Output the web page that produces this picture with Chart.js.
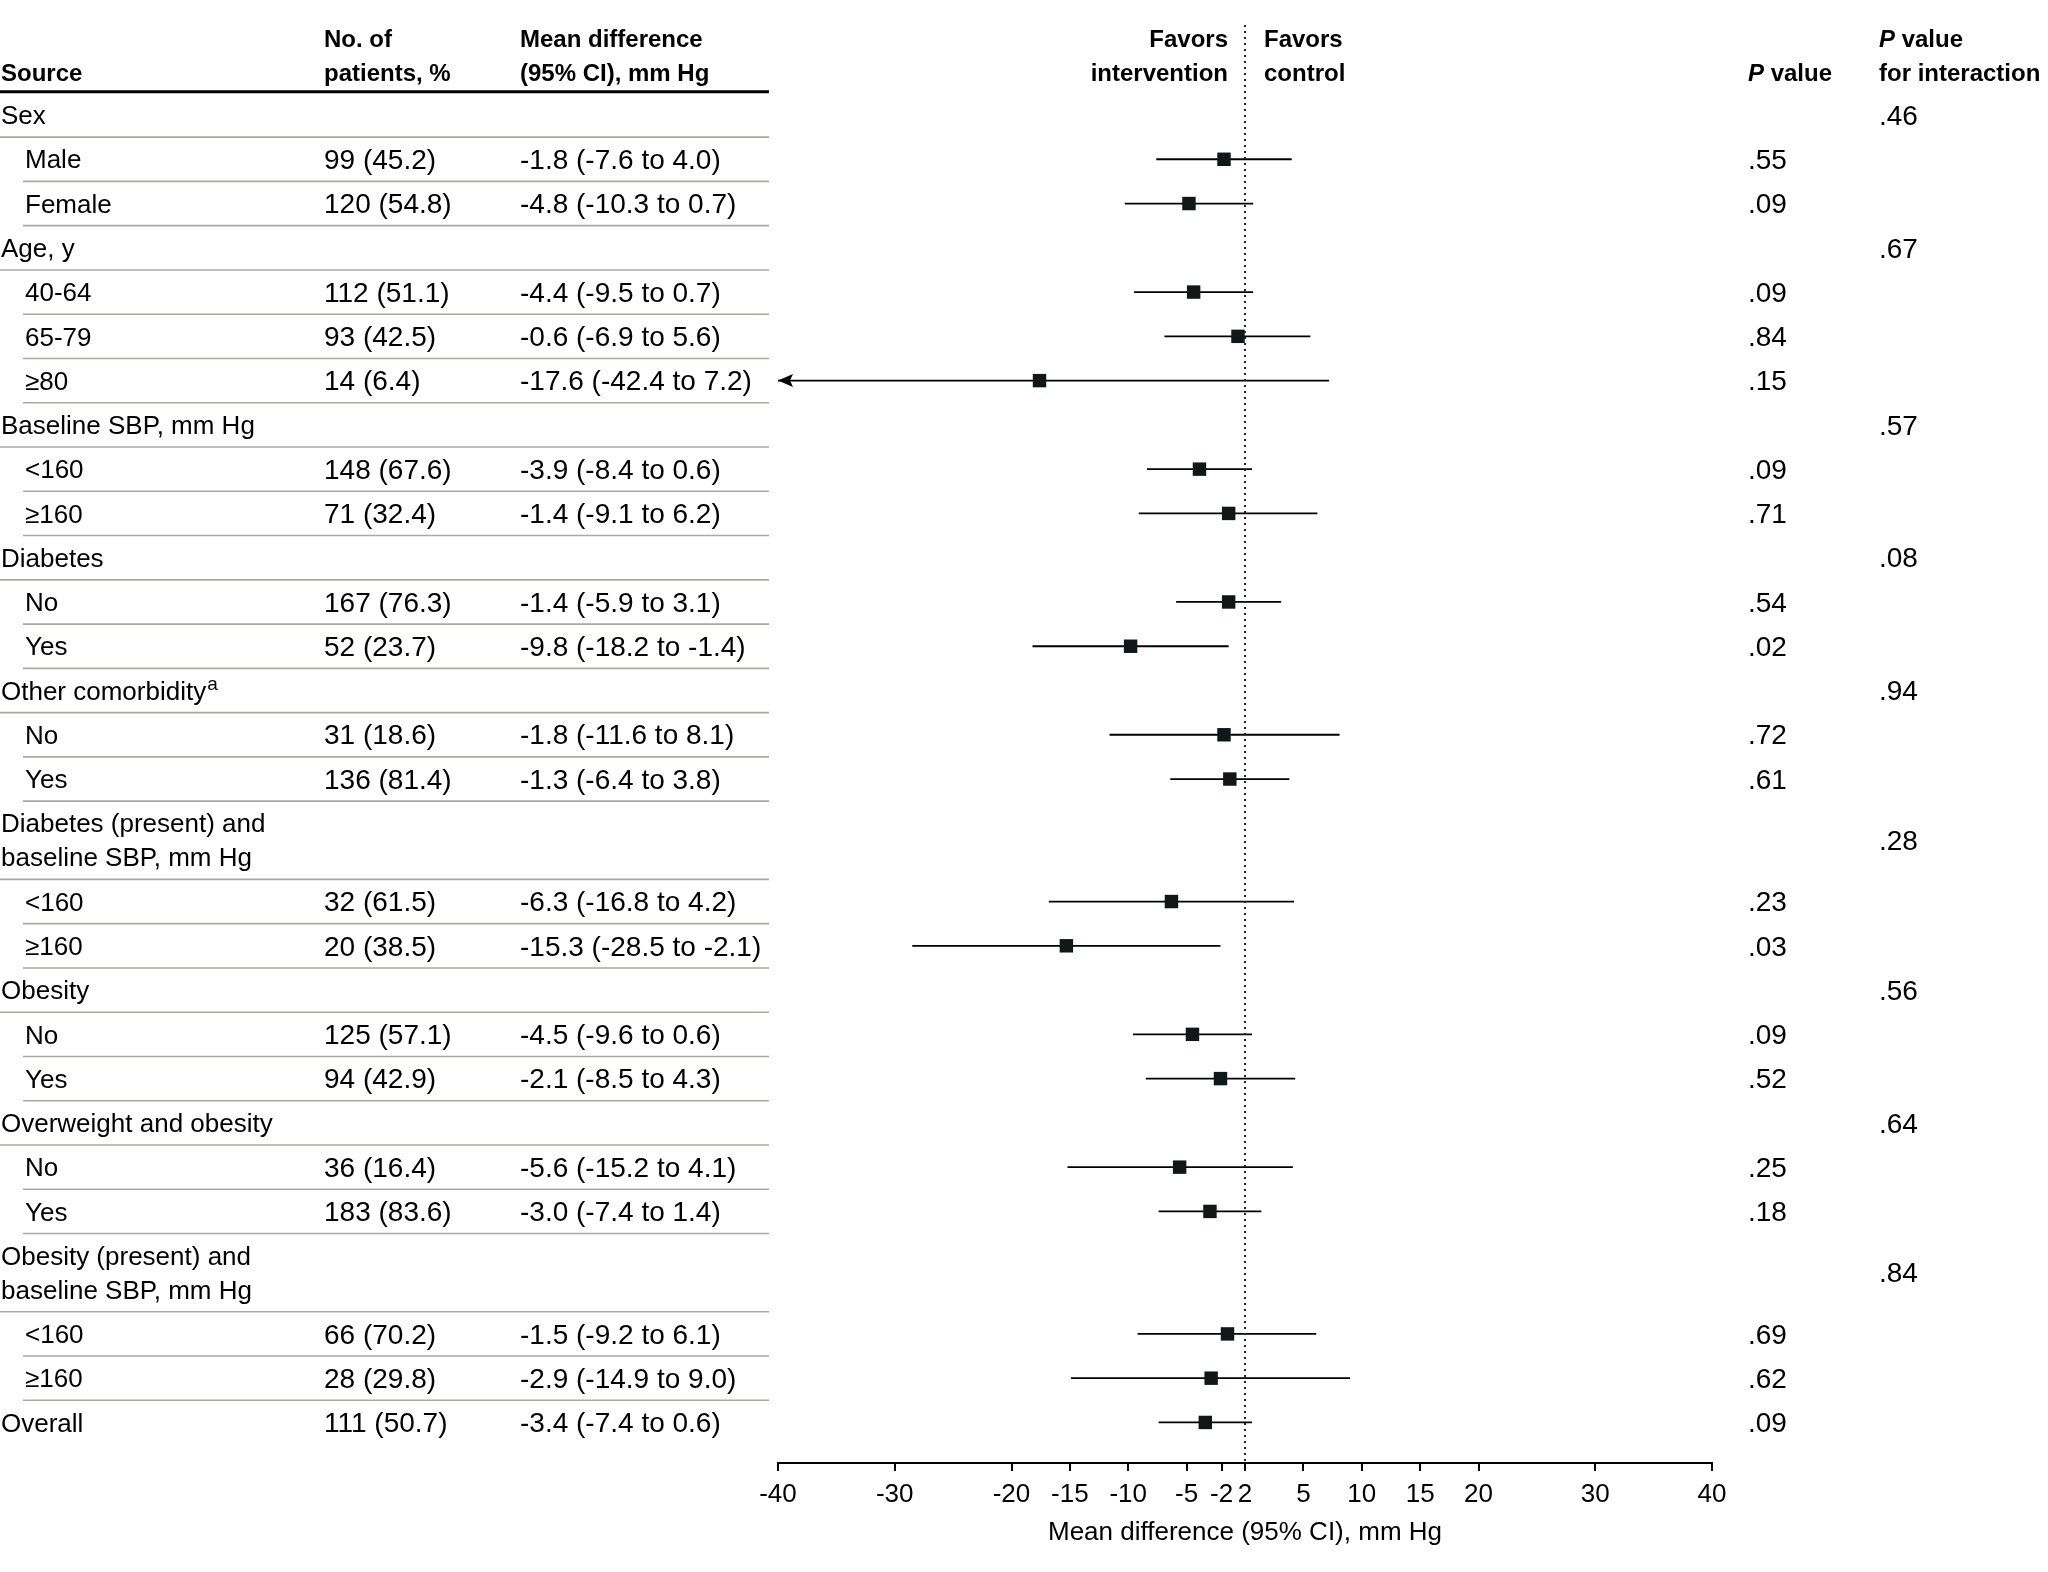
<!DOCTYPE html>
<html>
<head>
<meta charset="utf-8">
<script src="https://cdn.jsdelivr.net/npm/chart.js@4/dist/chart.umd.min.js"></script>
<style>
  html, body { margin: 0; padding: 0; background: #fff; }
  #forest { display: block; }
</style>
</head>
<body>
<canvas id="forest" width="2048" height="1572"></canvas>
<script>
// =========================
// DATA
// =========================
const rowLabels = [
    "Sex", "Male", "Female",
    "Age, y", "40-64", "65-79", "\u226580",
    "Baseline SBP, mm Hg", "<160", "\u2265160",
    "Diabetes", "No", "Yes",
    "Other comorbidity", "No", "Yes",
    "Diabetes (present) and\nbaseline SBP, mm Hg", "<160", "\u2265160",
    "Obesity", "No", "Yes",
    "Overweight and obesity", "No", "Yes",
    "Obesity (present) and\nbaseline SBP, mm Hg", "<160", "\u2265160",
    "Overall"
];
const rowSuperscripts = { 13: "a" };
const patients = [
    "", "99 (45.2)", "120 (54.8)",
    "", "112 (51.1)", "93 (42.5)", "14 (6.4)",
    "", "148 (67.6)", "71 (32.4)",
    "", "167 (76.3)", "52 (23.7)",
    "", "31 (18.6)", "136 (81.4)",
    "", "32 (61.5)", "20 (38.5)",
    "", "125 (57.1)", "94 (42.9)",
    "", "36 (16.4)", "183 (83.6)",
    "", "66 (70.2)", "28 (29.8)",
    "111 (50.7)"
];
const meanDiff = [
    null, -1.8, -4.8,
    null, -4.4, -0.6, -17.6,
    null, -3.9, -1.4,
    null, -1.4, -9.8,
    null, -1.8, -1.3,
    null, -6.3, -15.3,
    null, -4.5, -2.1,
    null, -5.6, -3.0,
    null, -1.5, -2.9,
    -3.4
];
const ciLow = [
    null, -7.6, -10.3,
    null, -9.5, -6.9, -42.4,
    null, -8.4, -9.1,
    null, -5.9, -18.2,
    null, -11.6, -6.4,
    null, -16.8, -28.5,
    null, -9.6, -8.5,
    null, -15.2, -7.4,
    null, -9.2, -14.9,
    -7.4
];
const ciHigh = [
    null, 4.0, 0.7,
    null, 0.7, 5.6, 7.2,
    null, 0.6, 6.2,
    null, 3.1, -1.4,
    null, 8.1, 3.8,
    null, 4.2, -2.1,
    null, 0.6, 4.3,
    null, 4.1, 1.4,
    null, 6.1, 9.0,
    0.6
];
const pValues = [
    "", ".55", ".09",
    "", ".09", ".84", ".15",
    "", ".09", ".71",
    "", ".54", ".02",
    "", ".72", ".61",
    "", ".23", ".03",
    "", ".09", ".52",
    "", ".25", ".18",
    "", ".69", ".62",
    ".09"
];
const pInteraction = [
    ".46", "", "",
    ".67", "", "", "",
    ".57", "", "",
    ".08", "", "",
    ".94", "", "",
    ".28", "", "",
    ".56", "", "",
    ".64", "", "",
    ".84", "", "",
    ""
];
const tickValues = [-40, -30, -20, -15, -10, -5, -2, 0, 5, 10, 15, 20, 30, 40];
const tickLabels = ["-40", "-30", "-20", "-15", "-10", "-5", "-2", "2", "5", "10", "15", "20", "30", "40"];

// =========================
// ROW POSITIONS (row units)
// =========================
const LINE2 = 0.767;   // second line of a two-line label
const rowPos = [];
let pos = 0;
rowLabels.forEach((l, i) => {
    rowPos.push(pos);
    pos += 1 + (l.includes("\n") ? LINE2 : 0);
});

const isSub = i => meanDiff[i] !== null && rowLabels[i] !== "Overall";
const fmt = v => v.toFixed(1);

// CI segments with gaps between rows
const ciData = [];
const pointData = [];
meanDiff.forEach((m, i) => {
    if (m === null) return;
    ciData.push({ x: ciLow[i], y: rowPos[i] }, { x: ciHigh[i], y: rowPos[i] }, { x: null, y: null });
    pointData.push({ x: m, y: rowPos[i] });
});

// =========================
// TABLE + DECORATION PLUGIN
// =========================
const FONT = "'Liberation Sans', Arial, sans-serif";
const LABEL_FONT = "26px " + FONT;
const NUM_FONT = "28px " + FONT;
const TEXT_DY = 2;

const tablePlugin = {
    id: "table",
    afterDraw(chart) {
        const ctx = chart.ctx;
        const xs = chart.scales.x;
        const ys = chart.scales.y;
        const area = chart.chartArea;
        const Y = v => ys.getPixelForValue(v) + TEXT_DY;

        const colSource = 1, colIndent = 25, colN = 324, colMean = 520;
        const colP = 1748, colPI = 1879, tableRight = 769;

        ctx.save();
        ctx.textBaseline = "middle";
        ctx.fillStyle = "#000";

        // header
        ctx.font = "bold 24px " + FONT;
        ctx.textAlign = "left";
        const h1 = Y(-1 - LINE2) + 2, h2 = Y(-1) + 2;
        ctx.fillText("Source", colSource, h2);
        ctx.fillText("No. of", colN, h1);
        ctx.fillText("patients, %", colN, h2);
        ctx.fillText("Mean difference", colMean, h1);
        ctx.fillText("(95% CI), mm Hg", colMean, h2);
        const x0 = xs.getPixelForValue(0);
        ctx.textAlign = "right";
        ctx.fillText("Favors", x0 - 17, h1);
        ctx.fillText("intervention", x0 - 17, h2);
        ctx.textAlign = "left";
        ctx.fillText("Favors", x0 + 19, h1);
        ctx.fillText("control", x0 + 19, h2);

        const italicP = (x, y) => {
            ctx.font = "italic bold 24px " + FONT;
            ctx.fillText("P", x, y);
            const w = ctx.measureText("P").width;
            ctx.font = "bold 24px " + FONT;
            ctx.fillText(" value", x + w, y);
        };
        italicP(colP, h2);
        italicP(colPI, h1);
        ctx.fillText("for interaction", colPI, h2);

        // header rule
        ctx.strokeStyle = "#000";
        ctx.lineWidth = 3;
        ctx.beginPath();
        ctx.moveTo(0, ys.getPixelForValue(-0.5) - 1);
        ctx.lineTo(tableRight, ys.getPixelForValue(-0.5) - 1);
        ctx.stroke();

        // rows
        rowLabels.forEach((label, i) => {
            const y = Y(rowPos[i]);
            const lines = label.split("\n");
            const lx = isSub(i) ? colIndent : colSource;
            ctx.textAlign = "left";
            ctx.fillStyle = "#000";
            ctx.font = LABEL_FONT;
            lines.forEach((t, k) => ctx.fillText(t, lx, Y(rowPos[i] + k * LINE2)));
            if (rowSuperscripts[i]) {
                const w = ctx.measureText(lines[0]).width;
                ctx.font = "19px " + FONT;
                ctx.fillText(rowSuperscripts[i], lx + w + 1, y - 8);
            }
            ctx.font = NUM_FONT;
            if (patients[i]) ctx.fillText(patients[i], colN, y);
            if (meanDiff[i] !== null) {
                ctx.fillText(fmt(meanDiff[i]) + " (" + fmt(ciLow[i]) + " to " + fmt(ciHigh[i]) + ")", colMean, y);
            }
            if (pValues[i]) ctx.fillText(pValues[i], colP, y);
            if (pInteraction[i]) {
                const py = lines.length > 1 ? Y(rowPos[i] + LINE2 / 2) : y;
                ctx.fillText(pInteraction[i], colPI, py);
            }

            // divider below row
            if (i < rowLabels.length - 1) {
                const dy = ys.getPixelForValue(rowPos[i] + (lines.length - 1) * LINE2 + 0.5);
                ctx.strokeStyle = "#a9a9a2";
                ctx.lineWidth = 1.6;
                ctx.beginPath();
                ctx.moveTo(isSub(i) ? 23 : 0, dy);
                ctx.lineTo(tableRight, dy);
                ctx.stroke();
            }

            // arrow for CI beyond the axis
            if (ciLow[i] !== null && ciLow[i] < xs.min) {
                const ay = ys.getPixelForValue(rowPos[i]);
                const ax = xs.getPixelForValue(xs.min);
                ctx.beginPath();
                ctx.moveTo(ax, ay);
                ctx.lineTo(ax + 15, ay - 6.5);
                ctx.lineTo(ax + 12, ay);
                ctx.lineTo(ax + 15, ay + 6.5);
                ctx.closePath();
                ctx.fill();
            }
        });

        // line of no effect
        ctx.strokeStyle = "#222";
        ctx.lineWidth = 2;
        ctx.setLineDash([2, 4]);
        ctx.beginPath();
        ctx.moveTo(x0, area.top);
        ctx.lineTo(x0, area.bottom);
        ctx.stroke();
        ctx.restore();
    }
};

// =========================
// CHART
// =========================
new Chart(document.getElementById("forest"), {
    type: "scatter",
    data: {
        datasets: [
            {
                data: ciData,
                showLine: true,
                spanGaps: false,
                borderColor: "#000",
                borderWidth: 1.8,
                pointRadius: 0,
                order: 2
            },
            {
                data: pointData,
                pointStyle: "rect",
                pointRadius: 9.5,
                backgroundColor: "#0f1717",
                borderColor: "#0f1717",
                borderWidth: 0,
                order: 1
            }
        ]
    },
    options: {
        responsive: false,
        animation: false,
        devicePixelRatio: 1,
        layout: { padding: { left: 778, right: 336, top: 25, bottom: 0 } },
        plugins: { legend: { display: false }, tooltip: { enabled: false } },
        scales: {
            x: {
                type: "linear",
                min: -40,
                max: 40,
                afterBuildTicks: s => { s.ticks = tickValues.map(v => ({ value: v })); },
                afterFit: s => { s.height = 109; },
                ticks: {
                    autoSkip: false,
                    maxRotation: 0,
                    padding: 8,
                    color: "#000",
                    font: { family: FONT, size: 26 },
                    callback: (v) => tickLabels[tickValues.indexOf(v)]
                },
                grid: { drawOnChartArea: false, drawTicks: true, tickLength: 8, color: "#000", lineWidth: 2 },
                border: { display: true, color: "#000", width: 2 },
                title: {
                    display: true,
                    text: "Mean difference (95% CI), mm Hg",
                    color: "#000",
                    font: { family: FONT, size: 26 },
                    padding: { top: 0, bottom: 24 }
                }
            },
            y: {
                type: "linear",
                reverse: true,
                min: -2.033,
                max: 30.45,
                display: false
            }
        }
    },
    plugins: [tablePlugin]
});
</script>
</body>
</html>
